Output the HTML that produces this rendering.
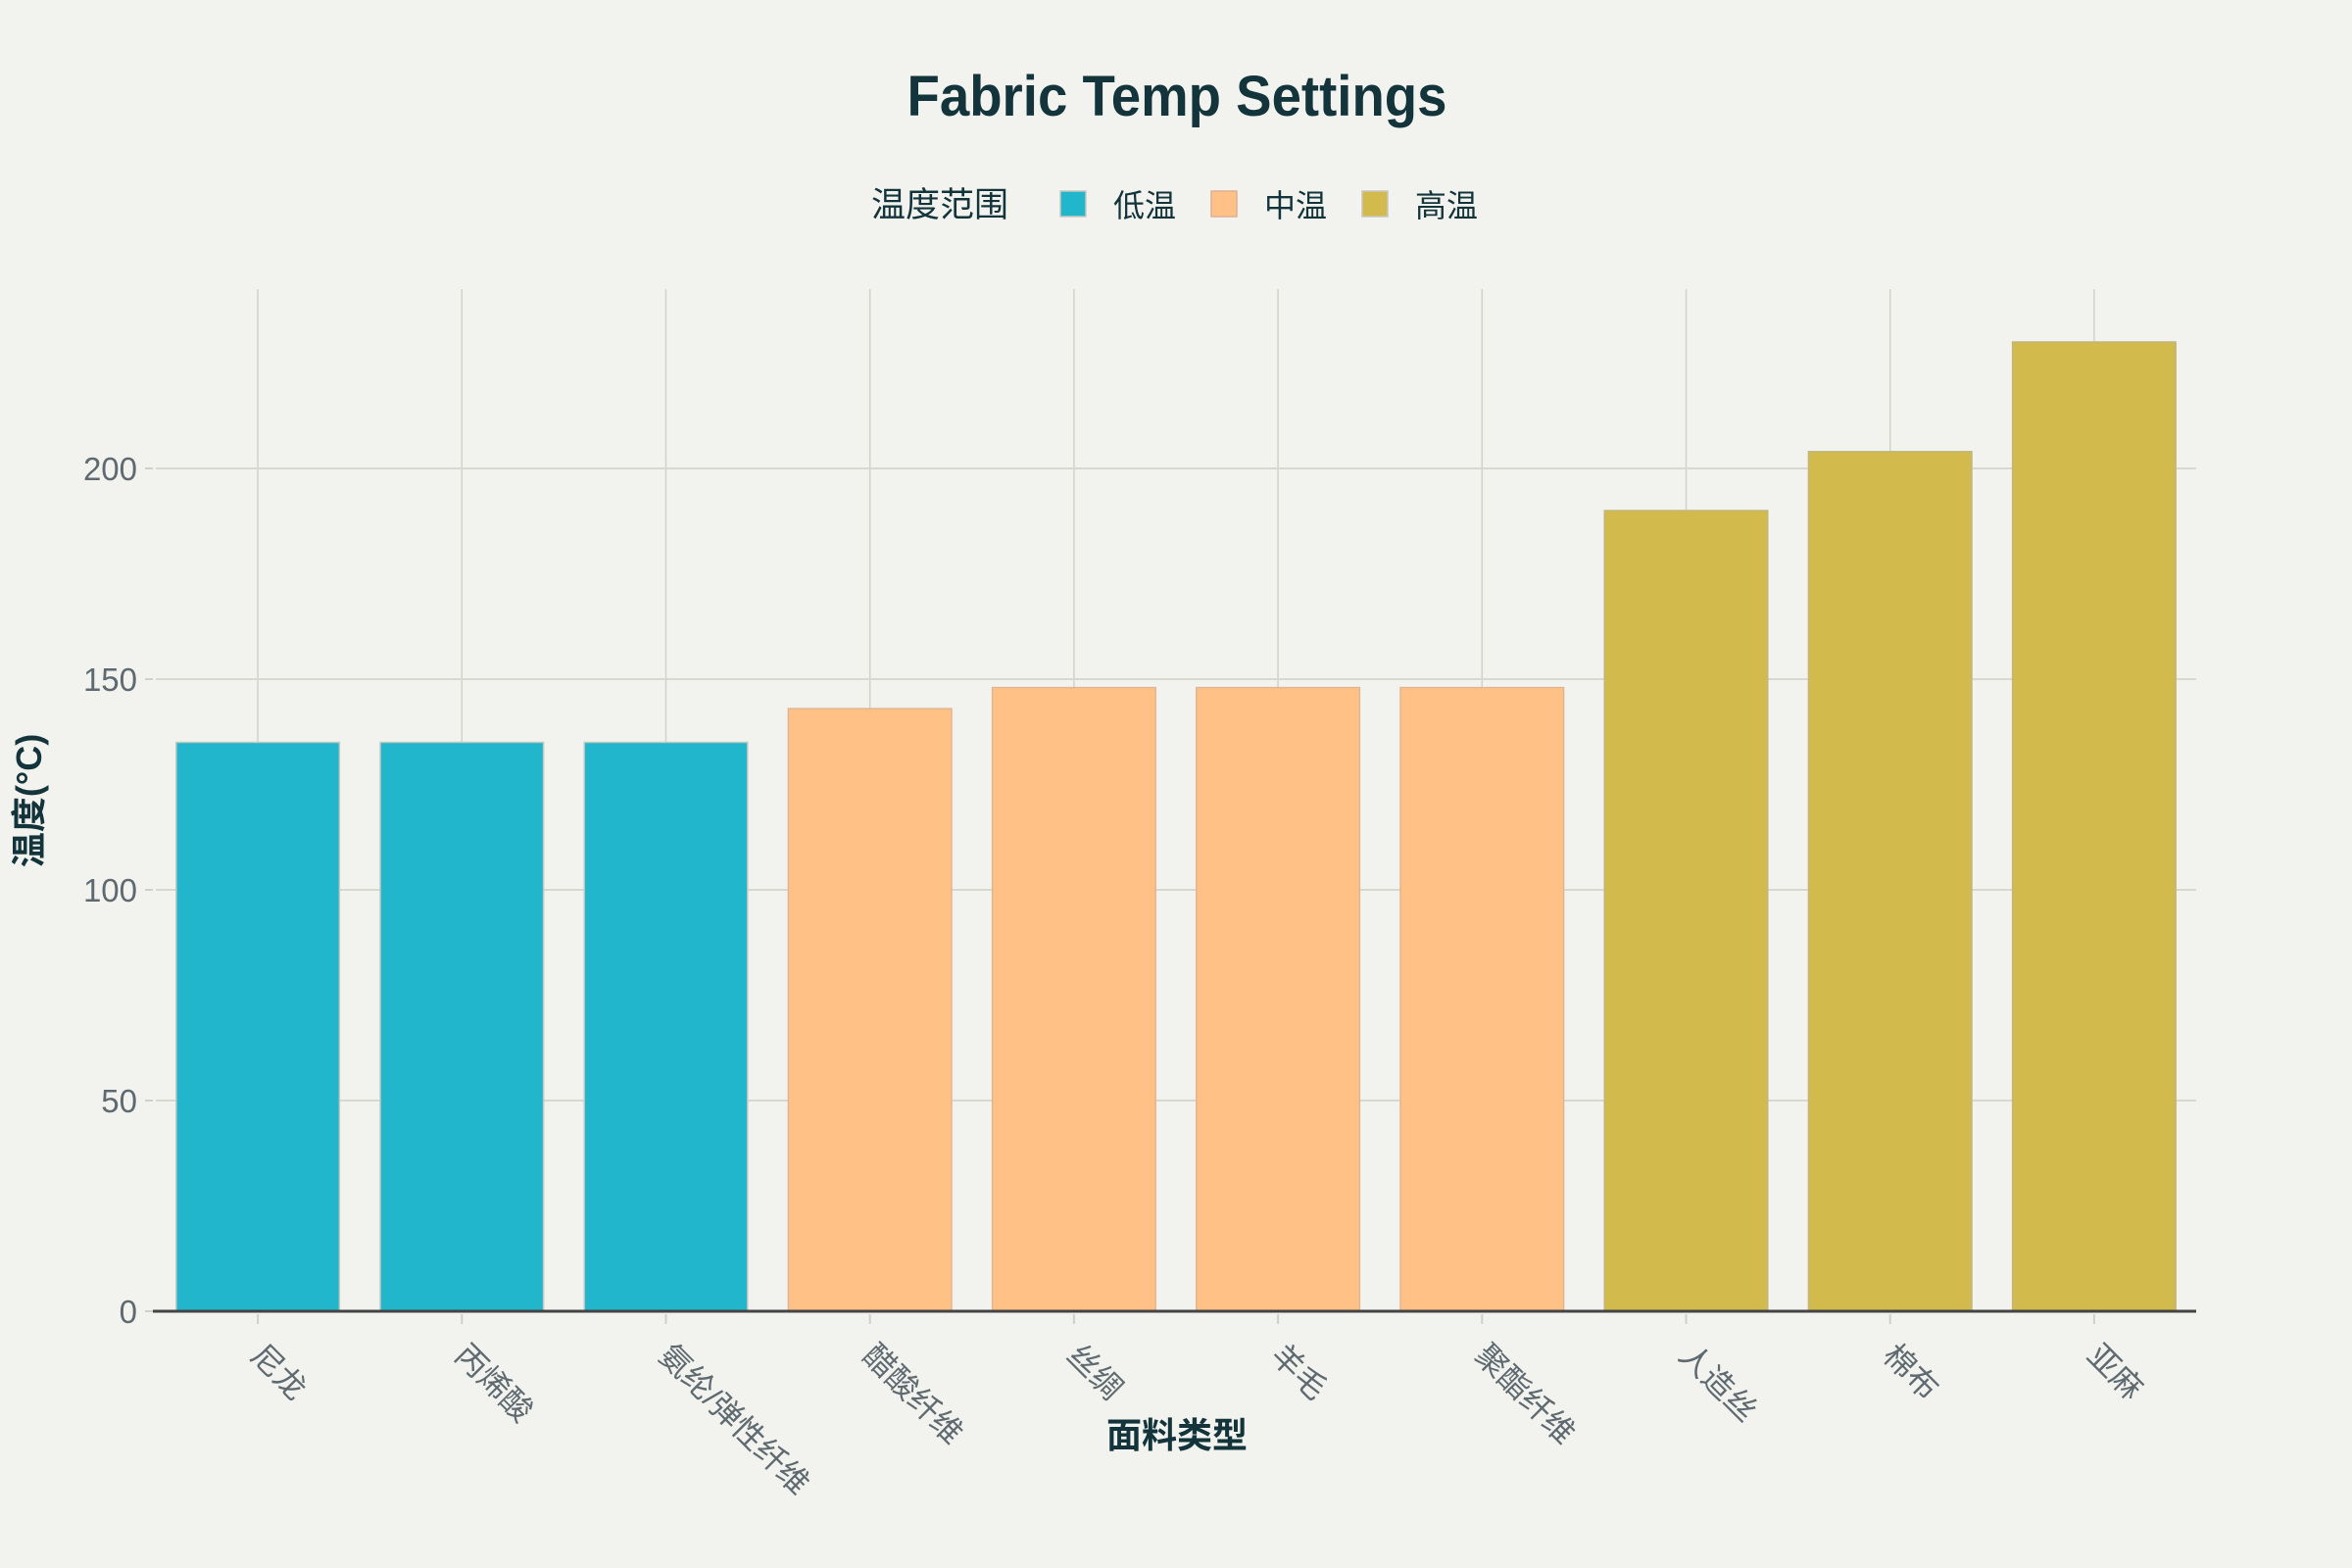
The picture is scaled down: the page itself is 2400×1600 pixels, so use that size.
<!DOCTYPE html>
<html><head><meta charset="utf-8"><style>
body{margin:0;background:#f2f3ee;}
svg{display:block;}
text{font-family:"Liberation Sans","Noto Sans CJK SC",sans-serif;}
</style></head><body>
<svg id="chart" width="2400" height="1600" viewBox="0 0 2400 1600" xmlns="http://www.w3.org/2000/svg">
<rect width="2400" height="1600" fill="#f2f3ee"/>
<text x="1201" y="118" text-anchor="middle" font-size="58" font-weight="bold" fill="#13343b" textLength="551" lengthAdjust="spacingAndGlyphs">Fabric Temp Settings</text>
<g>
<text x="889" y="221" font-size="35" fill="#13343b">温度范围</text>
<g><rect x="1082" y="195" width="26" height="26" fill="#21b6cb" stroke="#c8c8c0" stroke-width="1.5"/><text x="1136" y="221" font-size="32" fill="#13343b">低温</text></g>
<g><rect x="1236" y="195" width="26" height="26" fill="#ffc185" stroke="#e0b090" stroke-width="1.5"/><text x="1290" y="221" font-size="32" fill="#13343b">中温</text></g>
<g><rect x="1390" y="195" width="26" height="26" fill="#d2ba4c" stroke="#c8c8c0" stroke-width="1.5"/><text x="1444" y="221" font-size="32" fill="#13343b">高温</text></g>
</g>
<g id="grid"></g>
<g id="bars"></g>
<g id="axes"></g>
<text x="1201" y="1477" text-anchor="middle" font-size="36" font-weight="bold" fill="#13343b">面料类型</text>
<text transform="translate(42,817) rotate(-90)" text-anchor="middle" font-size="36" font-weight="bold" fill="#13343b">温度(°C)</text>
</svg>
<script>
const categories = ["尼龙","丙烯酸","氨纶/弹性纤维","醋酸纤维","丝绸","羊毛","聚酯纤维","人造丝","棉布","亚麻"];
const values = [135,135,135,143,148,148,148,190,204,230];
const groups = ["low","low","low","mid","mid","mid","mid","high","high","high"];
const yTicks = [0,50,100,150,200];
const colors = {low:["#21b6cb","#c0c8c0"],mid:["#ffc185","#e0b592"],high:["#d2ba4c","#c0b87a"]};
(function(){
const NS="http://www.w3.org/2000/svg";
const pL=159, pR=2241, pT=295, zeroY=1338, yMax=(zeroY-pT)/4.3;
const step=(pR-pL)/categories.length;
function x(i){return pL+step*(i+0.5);}
function y(v){return zeroY-v*(zeroY-pT)/yMax;}
function mk(tag,attrs,parent){const e=document.createElementNS(NS,tag);for(const k in attrs)e.setAttribute(k,attrs[k]);parent.appendChild(e);return e;}
const grid=document.getElementById('grid'),bars=document.getElementById('bars'),axes=document.getElementById('axes');
categories.forEach((c,i)=>{
  const l=mk('line',{x1:x(i),x2:x(i),y1:pT,y2:zeroY,stroke:"#d2d2cc","stroke-width":1.5},grid);
  
  
});
yTicks.forEach(t=>{
  if(t>0){const l=mk('line',{x1:pL,x2:pR,y1:y(t),y2:y(t),stroke:"#d8d8d2","stroke-width":2},grid);
  
  }
  const tk=mk('line',{x1:148,x2:156,y1:y(t),y2:y(t),stroke:"#d0d0ca","stroke-width":2},axes);
  
  
  const tx=mk('text',{x:140,y:y(t)+12,"text-anchor":"end","font-size":33,fill:"#5f6a70"},axes);
  tx.textContent=t;
  
  
});
values.forEach((v,i)=>{
  const w=step*0.8,col=colors[groups[i]];
  const r=mk('rect',{x:x(i)-w/2,y:y(v),width:w,height:zeroY-y(v),fill:col[0],stroke:col[1],"stroke-width":1.5},bars);
  
  
});
const ax=mk('line',{x1:pL-3,x2:pR,y1:zeroY,y2:zeroY,stroke:"#444","stroke-width":3},axes);


categories.forEach((c,i)=>{
  const tk=mk('line',{x1:x(i),x2:x(i),y1:zeroY+3,y2:zeroY+13,stroke:"#d0d0ca","stroke-width":2},axes);
  
  
  const t=mk('text',{transform:`translate(${x(i)+8},1368) rotate(45)`,x:0,y:24,"font-size":32,fill:"#5f6a70"},axes);
  t.textContent=c;
  
  
});
})();
</script>
</body></html>
